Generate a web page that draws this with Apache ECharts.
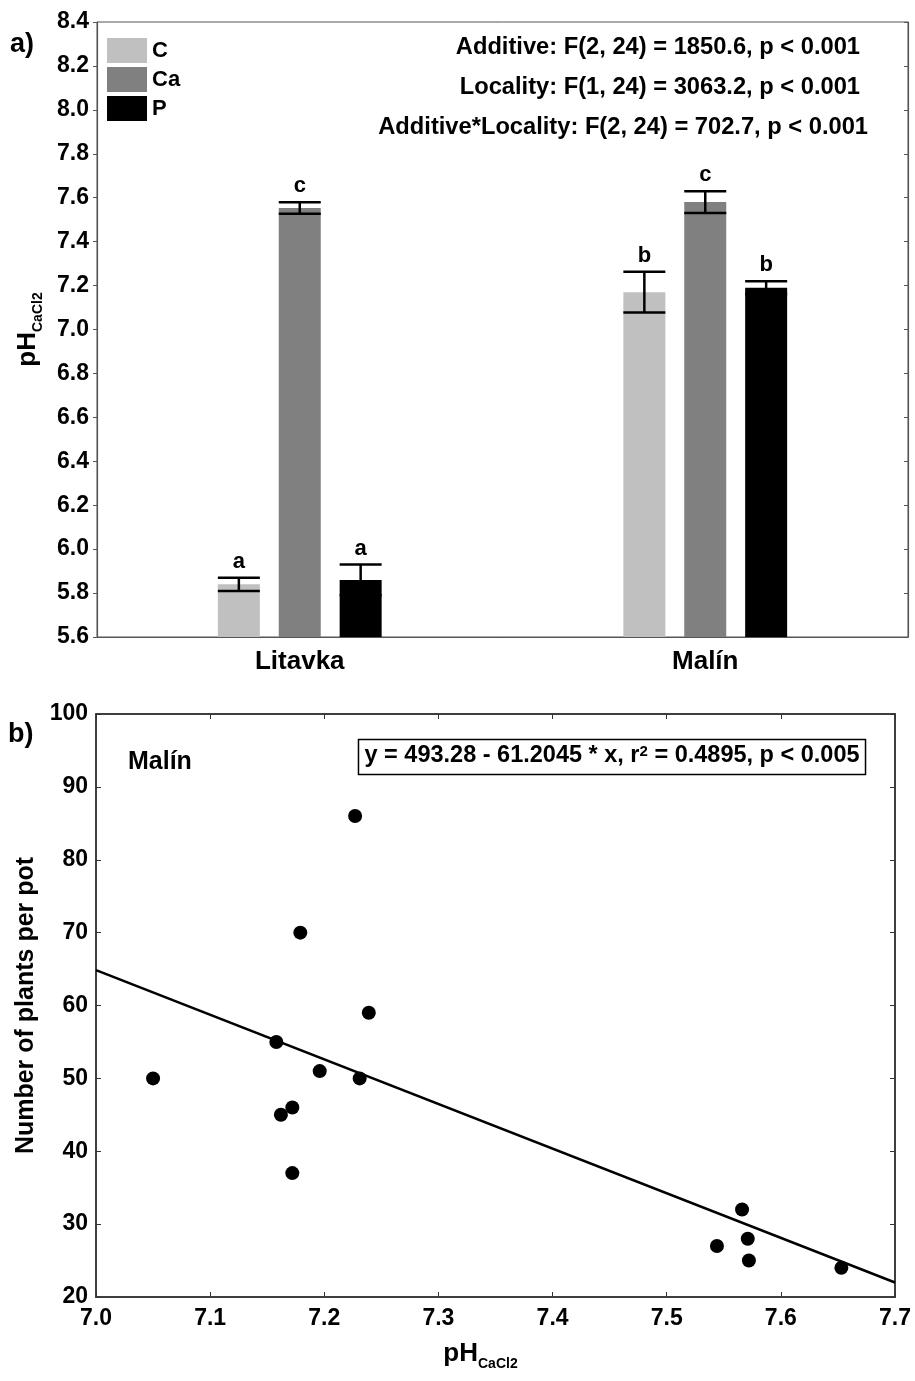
<!DOCTYPE html>
<html>
<head>
<meta charset="utf-8">
<script src="https://cdn.jsdelivr.net/npm/echarts@6/dist/echarts.min.js"></script>
<style>
html,body{margin:0;padding:0;background:#fff;}
#c{width:915px;height:1381px;}
</style>
</head>
<body>
<div id="c"></div>
<script>
// ---------- panel a) data ----------
const categories = ['Litavka', 'Malín'];
const groupNames = ['C', 'Ca', 'P'];
const meanC  = [5.84, 7.17];
const meanCa = [7.553, 7.58];
const meanP  = [5.86, 7.19];
const errC   = [0.03, 0.093];
const errCa  = [0.026, 0.05];
const errP   = [0.07, 0.03];
const lettersC  = ['a', 'b'];
const lettersCa = ['c', 'c'];
const lettersP  = ['a', 'b'];
const yTicksA = [5.6, 8.4, 0.2]; // min, max, interval
const statLines = [
  'Additive: F(2, 24) = 1850.6, p < 0.001',
  'Locality: F(1, 24) = 3063.2, p < 0.001',
  'Additive*Locality: F(2, 24) = 702.7, p < 0.001'
];

// ---------- panel b) data ----------
const phValues = [7.05, 7.158, 7.162, 7.172, 7.172, 7.179, 7.196, 7.227, 7.231, 7.239, 7.566, 7.544, 7.571, 7.572, 7.653];
const plantCounts = [50, 55, 45, 46, 37, 70, 51, 86, 50, 59, 32, 27, 28, 25, 24];
const fitX = [7.0, 7.7];
const fitY = [64.85, 21.99];
const xTicksB = [7.0, 7.7, 0.1];
const yTicksB = [20, 100, 10];
const eqText = ['y = 493.28 - 61.2045 * x, r', '2', ' = 0.4895, p < 0.005'];

const FONT = '"Liberation Sans", Arial, sans-serif';
const colors = ['#c0c0c0', '#808080', '#000000'];
const BAR_W = 42;
const BAR_GAP = 0.45;

const chart = echarts.init(document.getElementById('c'), null, {renderer: 'canvas'});

function errSeries(idx, means, errs, letters) {
  const offset = (idx - 1) * BAR_W * (1 + BAR_GAP);
  return {
    type: 'custom',
    xAxisIndex: 0, yAxisIndex: 0,
    z: 10,
    silent: true,
    data: means.map((m, i) => [i, m, errs[i]]),
    encode: {x: 0, y: 1},
    renderItem: function (params, api) {
      const ci = api.value(0), m = api.value(1), e = api.value(2);
      const c = api.coord([ci, m]);
      const x = c[0] + offset;
      const top = api.coord([ci, m + e])[1];
      const bot = api.coord([ci, m - e])[1];
      const h = BAR_W / 2;
      const st = {stroke: '#000', lineWidth: 2.5};
      return {
        type: 'group',
        children: [
          {type: 'line', shape: {x1: x, y1: top, x2: x, y2: bot}, style: st},
          {type: 'line', shape: {x1: x - h, y1: top, x2: x + h, y2: top}, style: st},
          {type: 'line', shape: {x1: x - h, y1: bot, x2: x + h, y2: bot}, style: st},
          {type: 'text', style: {x: x, y: top - 5, text: letters[params.dataIndex], align: 'center', verticalAlign: 'bottom',
            font: 'bold 22px ' + FONT, fill: '#000'}}
        ]
      };
    }
  };
}

const subRich = {
  b: {fontSize: 26, fontWeight: 'bold', fontFamily: FONT, color: '#000', lineHeight: 32, verticalAlign: 'top'},
  s: {fontSize: 14, fontWeight: 'bold', fontFamily: FONT, color: '#000', lineHeight: 14, verticalAlign: 'top', padding: [16, 0, 0, 0]}
};

const option = {
  backgroundColor: '#fff',
  animation: false,
  textStyle: {fontFamily: FONT},
  grid: [
    {left: 97, right: 7, top: 22, height: 615, show: true, borderColor: '#555', borderWidth: 1, backgroundColor: 'transparent'},
    {left: 96, right: 20, top: 714, height: 583, show: true, borderColor: '#333', borderWidth: 1.5, backgroundColor: 'transparent'}
  ],
  legend: {
    data: groupNames,
    orient: 'vertical',
    left: 107, top: 38, padding: 0,
    itemWidth: 40, itemHeight: 25, itemGap: 4,
    icon: 'rect',
    textStyle: {fontSize: 22, fontWeight: 'bold', color: '#000', fontFamily: FONT},
    selectedMode: false
  },
  xAxis: [
    {type: 'category', gridIndex: 0, data: categories,
      axisLine: {lineStyle: {color: '#555', width: 1.2}},
      axisTick: {show: true, alignWithLabel: true, inside: true, length: 4, lineStyle: {color: '#555'}},
      axisLabel: {fontSize: 26, fontWeight: 'bold', color: '#000', margin: 12}},
    {type: 'value', gridIndex: 1, min: xTicksB[0], max: xTicksB[1], interval: xTicksB[2],
      axisLine: {lineStyle: {color: '#333', width: 1.5}},
      axisTick: {inside: true, length: 5, lineStyle: {color: '#333'}},
      splitLine: {show: false},
      axisLabel: {fontSize: 23, fontWeight: 'bold', color: '#000', margin: 10, formatter: v => v.toFixed(1)},
      name: '{b|pH}{s|CaCl2}', nameLocation: 'middle', nameGap: 44, nameTextStyle: {rich: subRich, padding: [0, 30, 0, 0]}},
    {type: 'value', gridIndex: 1, position: 'top', min: xTicksB[0], max: xTicksB[1], interval: xTicksB[2],
      axisLine: {show: true, lineStyle: {color: '#333', width: 1.5}},
      axisTick: {inside: true, length: 5, lineStyle: {color: '#333'}},
      splitLine: {show: false}, axisLabel: {show: false}}
  ],
  yAxis: [
    {type: 'value', gridIndex: 0, min: yTicksA[0], max: yTicksA[1], interval: yTicksA[2],
      axisLine: {show: true, lineStyle: {color: '#555', width: 1.2}},
      axisTick: {show: true, length: 4, lineStyle: {color: '#555'}},
      splitLine: {show: false},
      axisLabel: {fontSize: 23, fontWeight: 'bold', color: '#000', margin: 8, formatter: v => v.toFixed(1)},
      name: '{b|pH}{s|CaCl2}', nameLocation: 'middle', nameGap: 50, nameTextStyle: {rich: subRich}},
    {type: 'value', gridIndex: 0, position: 'right', min: yTicksA[0], max: yTicksA[1], interval: yTicksA[2],
      axisLine: {show: true, lineStyle: {color: '#555', width: 1.2}},
      axisTick: {show: true, inside: true, length: 4, lineStyle: {color: '#555'}},
      splitLine: {show: false}, axisLabel: {show: false}},
    {type: 'value', gridIndex: 1, min: yTicksB[0], max: yTicksB[1], interval: yTicksB[2],
      axisLine: {show: true, lineStyle: {color: '#333', width: 1.5}},
      axisTick: {show: true, inside: true, length: 5, lineStyle: {color: '#333'}},
      splitLine: {show: false},
      axisLabel: {fontSize: 23, fontWeight: 'bold', color: '#000', margin: 8},
      name: 'Number of plants per pot', nameLocation: 'middle', nameGap: 56,
      nameTextStyle: {fontSize: 25, fontWeight: 'bold', color: '#000'}},
    {type: 'value', gridIndex: 1, position: 'right', min: yTicksB[0], max: yTicksB[1], interval: yTicksB[2],
      axisLine: {show: true, lineStyle: {color: '#333', width: 1.5}},
      axisTick: {show: true, inside: true, length: 5, lineStyle: {color: '#333'}},
      splitLine: {show: false}, axisLabel: {show: false}}
  ],
  series: [
    {name: 'C', type: 'bar', xAxisIndex: 0, yAxisIndex: 0, data: meanC, barWidth: BAR_W, barGap: (BAR_GAP * 100) + '%', itemStyle: {color: colors[0]}},
    {name: 'Ca', type: 'bar', xAxisIndex: 0, yAxisIndex: 0, data: meanCa, barWidth: BAR_W, barGap: (BAR_GAP * 100) + '%', itemStyle: {color: colors[1]}},
    {name: 'P', type: 'bar', xAxisIndex: 0, yAxisIndex: 0, data: meanP, barWidth: BAR_W, barGap: (BAR_GAP * 100) + '%', itemStyle: {color: colors[2]}},
    errSeries(0, meanC, errC, lettersC),
    errSeries(1, meanCa, errCa, lettersCa),
    errSeries(2, meanP, errP, lettersP),
    {type: 'scatter', xAxisIndex: 1, yAxisIndex: 2, symbolSize: 14, itemStyle: {color: '#000', opacity: 1},
      data: phValues.map((v, i) => [v, plantCounts[i]]), z: 5},
    {type: 'line', xAxisIndex: 1, yAxisIndex: 2, symbol: 'none', lineStyle: {color: '#000', width: 2.5},
      data: fitX.map((v, i) => [v, fitY[i]]), z: 4}
  ],
  graphic: [
    {type: 'text', left: 10, top: 31, style: {text: 'a)', font: 'bold 27px ' + FONT, fill: '#000'}},
    {type: 'text', left: 8, top: 721, style: {text: 'b)', font: 'bold 27px ' + FONT, fill: '#000'}},
    {type: 'text', x: 860, y: 47, style: {text: statLines[0], font: 'bold 23.7px ' + FONT, fill: '#000', align: 'right', verticalAlign: 'middle'}},
    {type: 'text', x: 860, y: 87, style: {text: statLines[1], font: 'bold 23.7px ' + FONT, fill: '#000', align: 'right', verticalAlign: 'middle'}},
    {type: 'text', x: 868, y: 127, style: {text: statLines[2], font: 'bold 23.7px ' + FONT, fill: '#000', align: 'right', verticalAlign: 'middle'}},
    {type: 'text', x: 128, y: 762, style: {text: 'Malín', font: 'bold 25px ' + FONT, fill: '#000', verticalAlign: 'middle'}},
    {type: 'text', x: 612, y: 757, style: {
      text: '{n|' + eqText[0] + '}{p|' + eqText[1] + '}{n|' + eqText[2] + '}',
      align: 'center', verticalAlign: 'middle',
      borderColor: '#000', borderWidth: 1.5, padding: [4, 6, 3, 6],
      rich: {
        n: {fontSize: 23.5, fontWeight: 'bold', fontFamily: FONT, fill: '#000', lineHeight: 28, verticalAlign: 'top'},
        p: {fontSize: 15, fontWeight: 'bold', fontFamily: FONT, fill: '#000', lineHeight: 15, verticalAlign: 'top', padding: [1, 0, 0, 0]}
      }
    }}
  ]
};
chart.setOption(option);
</script>
</body>
</html>
